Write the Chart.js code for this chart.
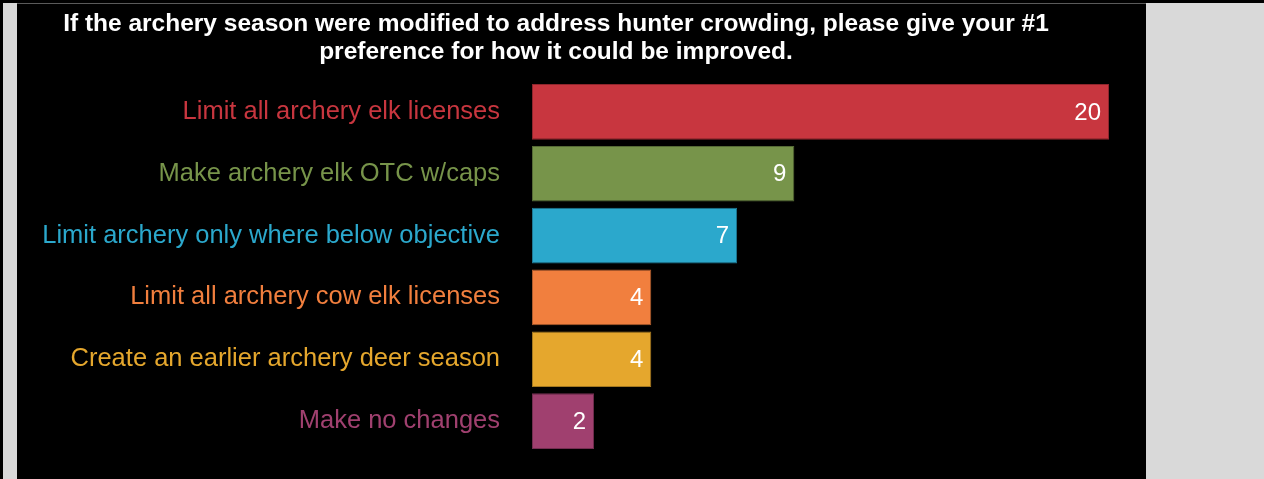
<!DOCTYPE html>
<html>
<head>
<meta charset="utf-8">
<script src="https://cdn.jsdelivr.net/npm/chart.js@4"></script>
<style>
  html, body { margin: 0; padding: 0; }
  body { width: 1264px; height: 479px; background: #d9d9d9; position: relative; overflow: hidden; }
  #topBar { position: absolute; left: 0; top: 0; width: 1264px; height: 3px; background: #000; }
  #leftBar { position: absolute; left: 0; top: 0; width: 3px; height: 479px; background: #000; }
  #panel { position: absolute; left: 17px; top: 3px; width: 1129px; height: 476px; background: #000; border-top: 1px solid #5a5a5a; box-sizing: border-box; }
  #wrap { position: absolute; left: 0; top: 0; width: 1264px; height: 479px; }
</style>
</head>
<body>
<div id="topBar"></div>
<div id="leftBar"></div>
<div id="panel"></div>
<div id="wrap"><canvas id="myBarChart"></canvas></div>
<script>
const titleLines = [
    'If the archery season were modified to address hunter crowding, please give your #1',
    'preference for how it could be improved.'
];
const categories = [
    'Limit all archery elk licenses',
    'Make archery elk OTC w/caps',
    'Limit archery only where below objective',
    'Limit all archery cow elk licenses',
    'Create an earlier archery deer season',
    'Make no changes'
];
const counts = [20, 9, 7, 4, 4, 2];
const barColors = ['#c8363f', '#77944a', '#2ba8cc', '#f17f3e', '#e5a72d', '#a0406f'];
const borderColors = ['#8f262d', '#556a35', '#1f7893', '#ad5b2c', '#a47820', '#732e50'];

const fontFamily = '"Liberation Sans", Arial, sans-serif';

// valori dentro le barre
const valueLabels = {
    id: 'valueLabels',
    afterDatasetsDraw(chart) {
        const ctx = chart.ctx;
        const meta = chart.getDatasetMeta(0);
        ctx.save();
        ctx.font = '24px ' + fontFamily;
        ctx.fillStyle = '#ffffff';
        ctx.textAlign = 'right';
        ctx.textBaseline = 'middle';
        meta.data.forEach((bar, i) => {
            ctx.fillText(String(counts[i]), bar.x - 8, bar.y + 1);
        });
        ctx.restore();
    }
};

document.addEventListener('DOMContentLoaded', function () {
    const ctx = document.getElementById('myBarChart').getContext('2d');

    const chartData = {
        labels: categories,
        datasets: [{
            label: 'Risposte',
            data: counts,
            base: -0.17,
            backgroundColor: barColors,
            borderColor: borderColors,
            borderWidth: 1,
            borderSkipped: false,
            barPercentage: 0.9,
            categoryPercentage: 1.0
        }]
    };

    const config = {
        type: 'bar',
        data: chartData,
        options: {
            indexAxis: 'y',
            responsive: true,
            maintainAspectRatio: false,
            animation: false,
            layout: {
                padding: { left: 3, right: 155, top: 0, bottom: 27 }
            },
            scales: {
                x: {
                    display: false,
                    min: -0.17,
                    max: 20
                },
                y: {
                    grid: { display: false, drawTicks: false },
                    border: { display: false },
                    ticks: {
                        padding: 32,
                        font: { family: fontFamily, size: 25.5 },
                        color: (c) => barColors[c.index]
                    },
                    afterFit: (scale) => {
                        scale.width = 529;
                        scale.paddingTop = 0;
                        scale.paddingBottom = 0;
                    }
                }
            },
            plugins: {
                title: {
                    display: true,
                    text: titleLines,
                    color: '#ffffff',
                    font: { family: fontFamily, size: 24.5, weight: 'bold', lineHeight: '28px' },
                    padding: { top: 10, bottom: 15 }
                },
                legend: { display: false },
                tooltip: { enabled: false }
            }
        },
        plugins: [valueLabels]
    };

    new Chart(ctx, config);
});
</script>
</body>
</html>
